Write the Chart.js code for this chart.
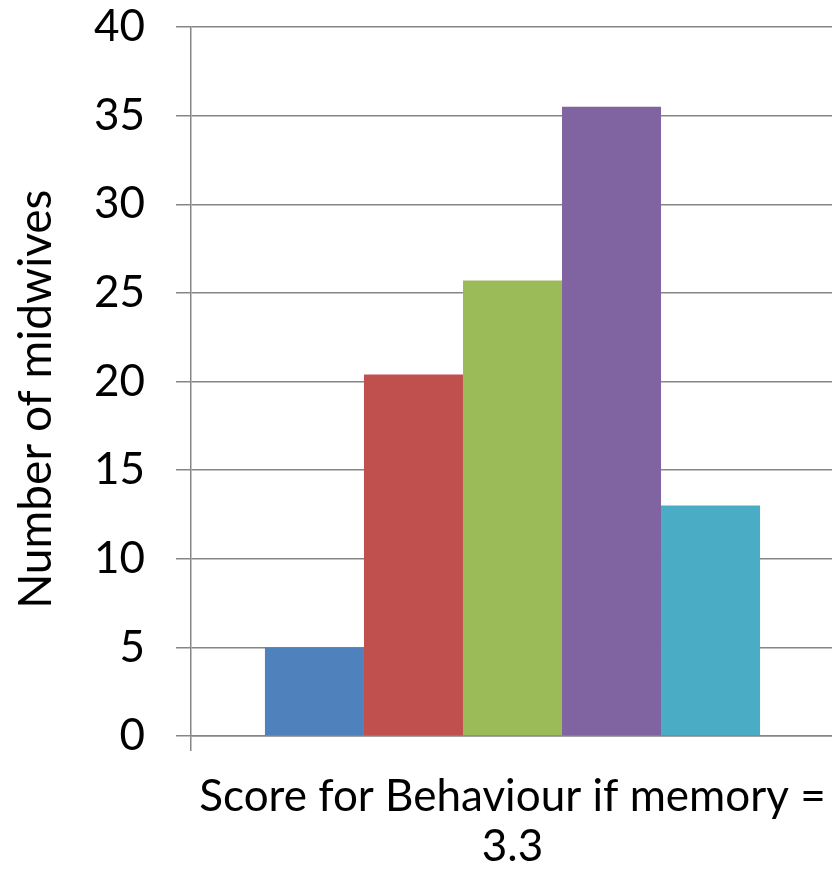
<!DOCTYPE html>
<html>
<head>
<meta charset="utf-8">
<script src="https://cdn.jsdelivr.net/npm/chart.js@4.4.1/dist/chart.umd.min.js"></script>
<style>
  html, body { margin: 0; padding: 0; background: #fff; overflow: hidden; }
  #wrap { position: absolute; left: 0; top: 0; width: 842px; height: 873px; }
</style>
</head>
<body>
<div id="wrap"><canvas id="chart"></canvas></div>
<script>
const categories = [''];
const seriesNames = ['1', '2', '3', '4', '5'];
const seriesValues = [[5], [20.4], [25.7], [35.5], [13]];
const seriesColors = ['#4F81BD', '#C0504D', '#9BBB59', '#8064A2', '#4BACC6'];
const yTicks = { min: 0, max: 40, step: 5 };

const axisGray = '#868686';
const fontFamily = 'Lato, "Open Sans", sans-serif';

const chartContainer = document.getElementById('chart');

new Chart(chartContainer, {
    type: 'bar',
    data: {
        labels: categories,
        datasets: seriesNames.map((name, i) => ({
            label: name,
            data: seriesValues[i],
            backgroundColor: seriesColors[i],
            borderWidth: 0,
            barPercentage: 1,
            categoryPercentage: 0.77
        }))
    },
    options: {
        responsive: true,
        maintainAspectRatio: false,
        animation: false,
        layout: { padding: { left: 0, right: 8, top: 0, bottom: 0 } },
        plugins: {
            legend: { display: false },
            tooltip: { enabled: false }
        },
        scales: {
            x: {
                offset: true,
                grid: {
                    drawOnChartArea: false,
                    offset: true,
                    color: axisGray,
                    lineWidth: 1.5,
                    tickLength: 15
                },
                border: { color: axisGray, width: 1.5 },
                ticks: { font: { size: 10 } },
                title: {
                    display: true,
                    text: ['Score for Behaviour if memory =', '3.3'],
                    color: '#000',
                    font: { family: fontFamily, size: 44, lineHeight: '50px' },
                    padding: { top: 0, bottom: 1 }
                },
                afterFit: (scale) => { scale.height = 137; }
            },
            y: {
                min: yTicks.min,
                max: yTicks.max,
                grid: {
                    color: axisGray,
                    lineWidth: 1.5,
                    tickLength: 15
                },
                border: { color: axisGray, width: 1.5 },
                ticks: {
                    stepSize: yTicks.step,
                    color: '#000',
                    padding: 31,
                    font: { family: fontFamily, size: 44 }
                },
                title: {
                    display: true,
                    text: 'Number of midwives   ',
                    color: '#000',
                    font: { family: fontFamily, size: 46, lineHeight: '50px' },
                    padding: { top: 11, bottom: 0 }
                },
                afterFit: (scale) => {
                    scale.width = 191;
                    scale.paddingTop = 27;
                    scale.paddingBottom = 0;
                }
            }
        }
    }
});
</script>
</body>
</html>
